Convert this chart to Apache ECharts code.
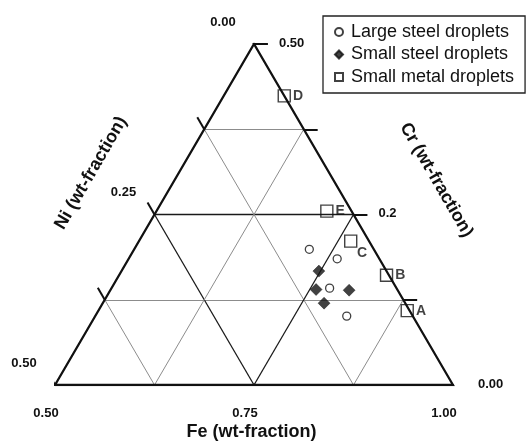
<!DOCTYPE html>
<html><head><meta charset="utf-8">
<script src="https://cdn.jsdelivr.net/npm/echarts@6/dist/echarts.min.js"></script>
<style>html,body{margin:0;padding:0;background:#fff}#c{width:530px;height:442px}</style>
</head><body><div id="c"></div>
<script>
// ---- data (weight fractions) ----
const seriesNames = ['Large steel droplets', 'Small steel droplets', 'Small metal droplets'];
const largeFe = [0.720, 0.762, 0.774, 0.816];
const largeNi = [0.081, 0.053, 0.084, 0.083];
const largeCr = [0.199, 0.185, 0.142, 0.101];
const smallFe = [0.748, 0.758, 0.800, 0.778];
const smallNi = [0.085, 0.102, 0.061, 0.102];
const smallCr = [0.167, 0.140, 0.139, 0.120];
const metalLabels = ['A', 'B', 'C', 'D', 'E'];
const metalFe = [0.888, 0.836, 0.766, 0.576, 0.714];
const metalNi = [0.003, 0.003, 0.023, 0.000, 0.031];
const metalCr = [0.109, 0.161, 0.211, 0.424, 0.255];
const feTicks = [0.5, 0.625, 0.75, 0.875, 1.0];
const feTickLabels = ['0.50', '', '0.75', '', '1.00'];
const niTicks = [0, 0.125, 0.25, 0.375, 0.5];
const niTickLabels = ['0.00', '', '0.25', '', '0.50'];
const crTicks = [0, 0.125, 0.25, 0.375, 0.5];
const crTickLabels = ['0.00', '', '0.2', '', '0.50'];
const axisTitles = ['Fe (wt-fraction)', 'Ni (wt-fraction)', 'Cr (wt-fraction)'];

// ternary (Fe 0.5-1, Ni 0-0.5, Cr 0-0.5) -> cartesian unit space
function toXY(fe, ni, cr) {
  const s = fe + ni + cr;
  const f = (fe / s - 0.5) / 0.5;
  const c = (cr / s) / 0.5;
  return [f + c / 2, c];
}
const FONT = "'Liberation Sans', Arial, Helvetica, sans-serif";
const TL = 0.035;

// border
const BL = toXY(0.5, 0.5, 0), BR = toXY(1, 0, 0), TOP = toXY(0.5, 0, 0.5);
const border = [{ coords: [BL, BR, TOP, BL] }];

// grid lines
const minorStyle = { color: '#8c8c8c', width: 1, opacity: 1 };
const majorStyle = { color: '#1a1a1a', width: 1.3, opacity: 1 };
const gridLines = [];
crTicks.forEach(v => {
  if (v === 0 || v === 0.5) return;
  const st = v === 0.25 ? majorStyle : minorStyle;
  gridLines.push({ coords: [toXY(0.5, 0.5 - v, v), toXY(1 - v, 0, v)], lineStyle: st });
});
niTicks.forEach(v => {
  if (v === 0 || v === 0.5) return;
  const st = v === 0.25 ? majorStyle : minorStyle;
  gridLines.push({ coords: [toXY(0.5, v, 0.5 - v), toXY(1 - v, v, 0)], lineStyle: st });
});
feTicks.forEach(w => {
  if (w === 0.5 || w === 1) return;
  const st = w === 0.75 ? majorStyle : minorStyle;
  gridLines.push({ coords: [toXY(w, 1 - w, 0), toXY(w, 0, 1 - w)], lineStyle: st });
});

// ticks
const ticks = [];
niTicks.forEach(v => { const p = toXY(0.5, v, 0.5 - v); ticks.push({ coords: [p, [p[0] - TL / 2, p[1] + TL]] }); });
feTicks.forEach(w => { const p = toXY(w, 1 - w, 0); ticks.push({ coords: [p, [p[0] - TL / 2, p[1] - TL]] }); });
crTicks.forEach(v => { const p = toXY(1 - v, 0, v); ticks.push({ coords: [p, [p[0] + TL, p[1]]] }); });

const largeData = largeFe.map((f, i) => toXY(f, largeNi[i], largeCr[i]));
const smallData = smallFe.map((f, i) => toXY(f, smallNi[i], smallCr[i]));
const metalData = metalFe.map((f, i) => {
  const item = { name: metalLabels[i], value: toXY(f, metalNi[i], metalCr[i]) };
  if (metalLabels[i] === 'C') item.label = { position: [18, 19], align: 'center', verticalAlign: 'middle' };
  return item;
});

const chart = echarts.init(document.getElementById('c'), null, { renderer: 'canvas' });
chart.setOption({
  animation: false,
  backgroundColor: '#fff',
  grid: { left: 55, right: 77, top: 44, bottom: 57 },
  xAxis: { type: 'value', min: 0, max: 1, show: false },
  yAxis: { type: 'value', min: 0, max: 1, show: false },
  legend: {
    data: seriesNames,
    orient: 'vertical',
    left: 323, top: 16,
    padding: [7, 11, 7, 11],
    itemGap: 4.5,
    itemWidth: 8, itemHeight: 8,
    borderColor: '#222', borderWidth: 1.3,
    textStyle: { fontSize: 18, lineHeight: 18, color: '#111', fontFamily: FONT, padding: [0, 0, 0, 3] }
  },
  series: [
    { type: 'lines', coordinateSystem: 'cartesian2d', polyline: false, silent: true, z: 1,
      data: gridLines, lineStyle: minorStyle },
    { type: 'lines', coordinateSystem: 'cartesian2d', silent: true, z: 2,
      data: ticks, lineStyle: { color: '#111', width: 2, opacity: 1 } },
    { type: 'lines', coordinateSystem: 'cartesian2d', polyline: true, silent: true, z: 3,
      data: border, lineStyle: { color: '#111', width: 2.3, opacity: 1 } },
    { name: seriesNames[0], type: 'scatter', z: 5, symbol: 'circle', symbolSize: 8,
      itemStyle: { color: '#fff', borderColor: '#111', borderWidth: 1.3 }, data: largeData },
    { name: seriesNames[1], type: 'scatter', z: 5, symbol: 'diamond', symbolSize: 12,
      itemStyle: { color: '#111', borderColor: '#111', borderWidth: 0.5 }, data: smallData },
    { name: seriesNames[2], type: 'scatter', z: 5, symbol: 'rect', symbolSize: 12,
      itemStyle: { color: 'rgba(255,255,255,0)', borderColor: '#111', borderWidth: 1.4 },
      label: { show: true, position: 'right', distance: 2, formatter: '{b}', fontSize: 14,
               fontWeight: 'bold', color: '#111', fontFamily: FONT },
      data: metalData }
  ]
});

// text annotations anchored to the axes' scales
const px = p => chart.convertToPixel({ gridIndex: 0 }, p);
const g = [];
function txt(pos, dx, dy, text, font, align, rot) {
  g.push({ type: 'text', x: pos[0] + dx, y: pos[1] + dy, rotation: rot || 0, z: 10,
    style: { text: text, fill: '#111', font: font, align: align || 'center', textAlign: align || 'center',
             verticalAlign: 'middle', textVerticalAlign: 'middle' } });
}
const tickFont = 'bold 13px ' + FONT;
niTicks.forEach((v, i) => { if (niTickLabels[i]) txt(px(toXY(0.5, v, 0.5 - v)), -31, -22, niTickLabels[i], tickFont); });
crTicks.forEach((v, i) => { if (crTickLabels[i]) txt(px(toXY(1 - v, 0, v)), 25, -1, crTickLabels[i], tickFont, 'left'); });
feTicks.forEach((w, i) => { if (feTickLabels[i]) txt(px(toXY(w, 1 - w, 0)), -9, 28, feTickLabels[i], tickFont); });
const titleFont = 'bold 18px ' + FONT;
txt(px(toXY(0.75, 0.25, 0)), -2.5, 47, axisTitles[0], titleFont);
txt(px(toXY(0.5, 0.25, 0.25)), -63.5, -41.5, axisTitles[1], titleFont, 'center', Math.PI / 3);
txt(px(toXY(0.75, 0, 0.25)), 82.8, -34.5, axisTitles[2], titleFont, 'center', -Math.PI / 3);
chart.setOption({ graphic: { elements: g } });
</script>
</body></html>
